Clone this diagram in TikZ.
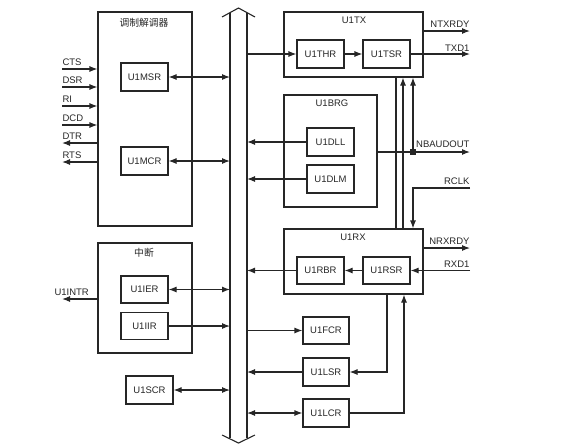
\documentclass[tikz,border=0pt]{standalone}
\usepackage{fontspec}
\setmainfont{Liberation Sans}
\newfontfamily\cjk{Noto Sans CJK SC}
\usetikzlibrary{arrows.meta}

\begin{document}
\begin{tikzpicture}[x=1pt,y=-1pt,line width=1.1pt,color=black!85,
  font=\fontsize{9.5}{11}\selectfont,
  >={Latex[length=8pt,width=6pt]},
  reg/.style={draw,minimum width=47pt,minimum height=28pt,inner sep=0pt},
  grp/.style={draw,inner sep=0pt},
  sigl/.style={anchor=base west,yshift=3.5pt,inner sep=0pt},
  sigr/.style={anchor=base east,yshift=3.5pt,inner sep=0pt},
  jdot/.style={fill,minimum size=5.5pt,inner sep=0pt}]
\useasboundingbox (0,0) rectangle (564,445);
% bus
\draw (222,17) -- (238.5,8) -- (255,17);
\draw (230,12.6) -- (230,438.4);
\draw (247,12.6) -- (247,438.4);
\draw (222,435) -- (238.5,443) -- (255,435);
\coordinate (busl) at (230,0);
\coordinate (busr) at (247,0);

% modem
\node[grp,minimum width=94pt,minimum height=214pt] (modem) at (145,119) {};
\node (modemt) at (144,23) {\cjk\fontsize{9.8}{11}\selectfont 调制解调器};
\node[reg] (msr) at (144.5,77) {U1MSR};
\node[reg] (mcr) at (144.5,161) {U1MCR};
\draw[<->] (msr) -- (msr -| busl);
\draw[<->] (mcr) -- (mcr -| busl);
\coordinate (cts) at (62,69);
\coordinate (dsr) at (62,87);
\coordinate (ri) at (62,106);
\coordinate (dcd) at (62,125);
\coordinate (dtr) at (62,143);
\coordinate (rts) at (62,162);
\draw[->] (cts) node[sigl] {CTS} -- (cts -| modem.west);
\draw[->] (dsr) node[sigl] {DSR} -- (dsr -| modem.west);
\draw[->] (ri) node[sigl] {RI} -- (ri -| modem.west);
\draw[->] (dcd) node[sigl] {DCD} -- (dcd -| modem.west);
\draw[->] (dtr -| modem.west) -- (dtr) node[sigl] {DTR};
\draw[->] (rts -| modem.west) -- (rts) node[sigl] {RTS};

% interrupt
\node[grp,minimum width=94pt,minimum height=110pt] (irq) at (145,298) {};
\node (irqt) at (144,253) {\cjk\fontsize{9.8}{11}\selectfont 中断};
\node[reg,minimum height=27pt] (ier) at (144.5,289.5) {U1IER};
\node[reg,minimum height=27pt] (iir) at (144.5,326) {U1IIR};
\draw[<->] (ier) -- (ier -| busl);
\draw[->] (iir) -- (iir -| busl);
\coordinate (intr) at (62,299);
\draw[->] (intr -| irq.west) -- (intr) node[sigl,xshift=-8pt] {U1INTR};
\node[reg] (scr) at (149.5,390) {U1SCR};
\draw[<->] (scr) -- (scr -| busl);

% transmitter
\node[grp,minimum width=139pt,minimum height=65pt] (tx) at (353.5,44.5) {};
\node (txt) at (354,20) {U1TX};
\node[reg] (thr) at (320.5,54) {U1THR};
\node[reg] (tsr) at (386.5,54) {U1TSR};
\draw[->] (thr -| busr) -- (thr);
\draw[->] (thr) -- (tsr);
\coordinate (ntxrdy) at (470,31);
\coordinate (txd) at (470,54);
\draw[->] (ntxrdy -| tx.east) -- (ntxrdy) node[sigr] {NTXRDY};
\draw[->] (tsr) -- (txd) node[sigr,yshift=-1pt] {TXD1};

% baud rate generator
\node[grp,minimum width=93pt,minimum height=112pt] (brg) at (330.5,151) {};
\node (brgt) at (332,103) {U1BRG};
\node[reg] (dll) at (330.5,142) {U1DLL};
\node[reg] (dlm) at (330.5,179) {U1DLM};
\draw[->] (dll) -- (dll -| busr);
\draw[->] (dlm) -- (dlm -| busr);
\node[jdot] (jn) at (413,152) {};
\coordinate (nbaud) at (470,152);
\draw[->] (brg.east |- jn) -- (nbaud) node[sigr,yshift=1.5pt] {NBAUDOUT};
\draw[->] (jn) -- (jn |- tx.south);

% receiver
\node[grp,minimum width=139pt,minimum height=65pt] (rx) at (353.5,261.5) {};
\node (rxt) at (353,237) {U1RX};
\node[reg,minimum height=27pt] (rbr) at (320.5,270.5) {U1RBR};
\node[reg,minimum height=27pt] (rsr) at (386.5,270.5) {U1RSR};
\draw[->] (rsr) -- (rbr);
\draw[->] (rbr) -- (rbr -| busr);
\coordinate (nrxrdy) at (470,248);
\coordinate (rxd) at (470,270.5);
\draw[->] (nrxrdy -| rx.east) -- (nrxrdy) node[sigr] {NRXRDY};
\draw[->] (rxd) node[sigr] {RXD1} -- (rsr);
\coordinate (va) at (396,0);
\coordinate (vb) at (403,0);
\draw (va |- tx.south) -- (va |- rx.north);
\draw[->] (vb |- rx.north) -- (vb |- tx.south);
\coordinate (rclk) at (470,188);
\draw[->] (rclk) node[sigr] {RCLK} -- (rclk -| jn) -- (jn |- rx.north);

% line registers
\node[reg,minimum width=46pt,minimum height=27pt] (fcr) at (326,330.5) {U1FCR};
\node[reg,minimum width=46pt] (lsr) at (326,372) {U1LSR};
\node[reg,minimum width=46pt] (lcr) at (326,413) {U1LCR};
\draw[->] (fcr -| busr) -- (fcr);
\draw[->] (lsr) -- (lsr -| busr);
\draw[<->] (lcr) -- (lcr -| busr);
\coordinate (vc) at (387,0);
\coordinate (vd) at (404,0);
\draw[->] (vc |- rx.south) -- (vc |- lsr) -- (lsr);
\draw[->] (lcr) -- (vd |- lcr) -- (vd |- rx.south);
\end{tikzpicture}
\end{document}
